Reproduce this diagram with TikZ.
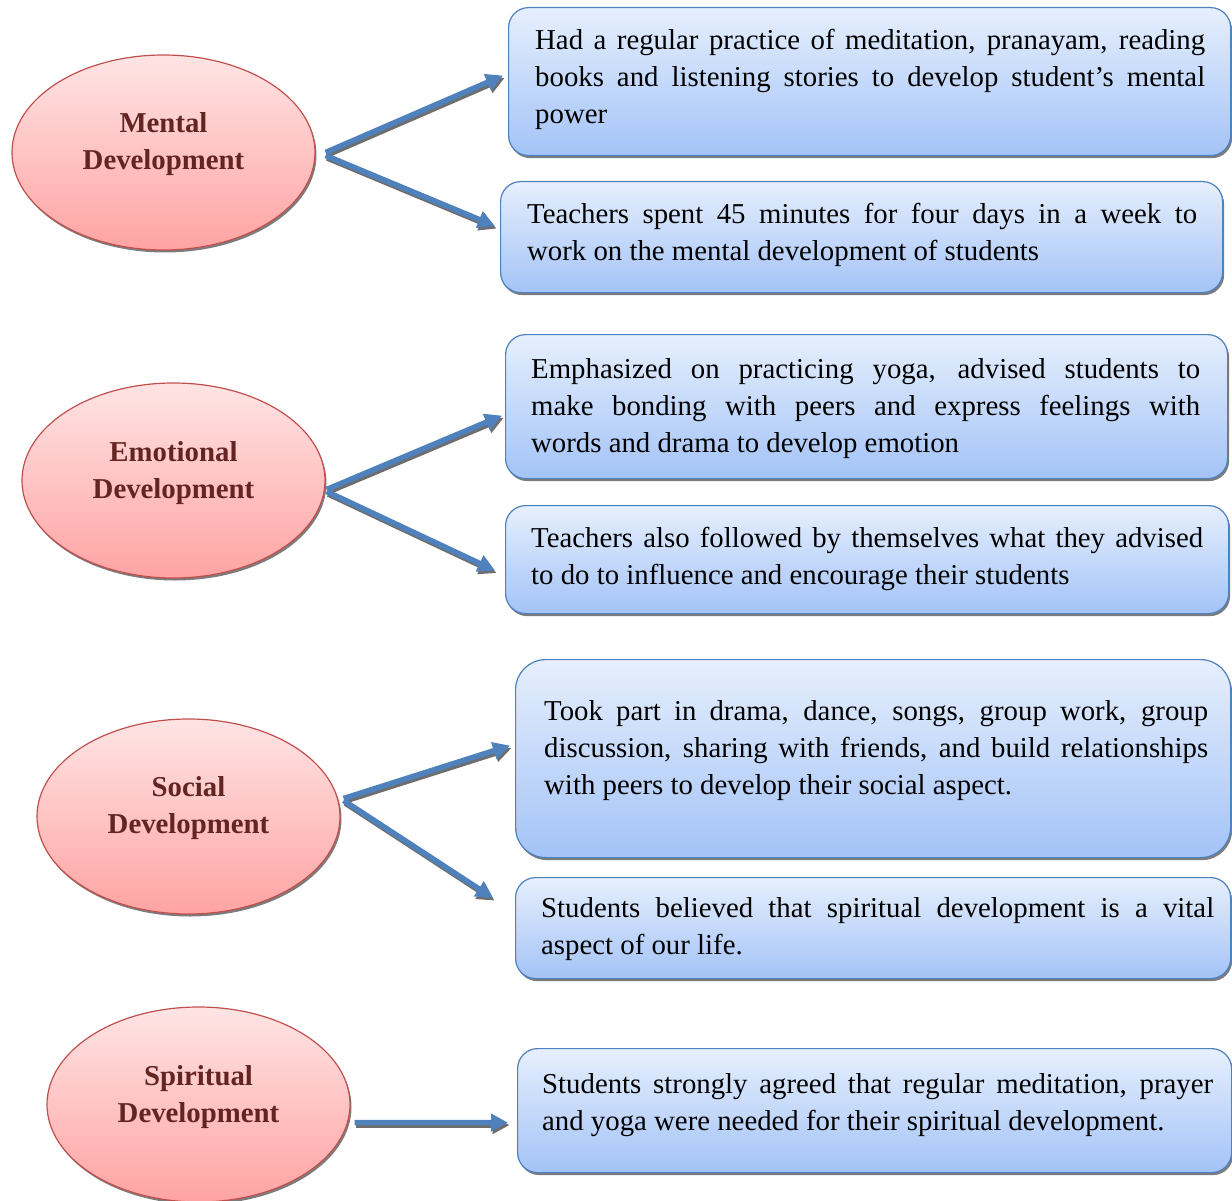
\documentclass[tikz,border=0pt]{standalone}
\usepackage{fontspec}
\setmainfont{Liberation Serif}
\usetikzlibrary{shapes.geometric,arrows.meta,shadows}
\definecolor{bluebd}{HTML}{4F81BD}
\definecolor{redbd}{HTML}{C0504D}
\definecolor{elltxt}{HTML}{632523}
\definecolor{elltop}{HTML}{FFE4E4}
\definecolor{ellbot}{HTML}{FFA3A3}
\definecolor{boxtop}{HTML}{E6EFFD}
\definecolor{boxbot}{HTML}{A3C3F7}
\definecolor{shadowgray}{HTML}{6E6E6E}
\hyphenpenalty=10000
\exhyphenpenalty=10000
\begin{document}
\begin{tikzpicture}[x=1pt,y=-1pt,
  myshadow/.style={drop shadow={shadow xshift=1.5pt,shadow yshift=-2.5pt,fill=shadowgray,opacity=0.9}},
  ell/.style={ellipse,draw=redbd,line width=1.2pt,top color=elltop,bottom color=ellbot,
    minimum width=303pt,minimum height=195pt,inner sep=0pt,myshadow},
  elltext/.style={anchor=base,align=center,inner sep=0pt,text=elltxt,
    font=\fontsize{28.8}{37}\selectfont\bfseries},
  infobox/.style={rectangle,rounded corners=20pt,draw=bluebd,line width=1.2pt,
    top color=boxtop,bottom color=boxbot,anchor=north west,inner sep=0pt,myshadow},
  boxtext/.style={anchor=base west,align=justify,inner sep=0pt,
    font=\fontsize{28.8}{37}\selectfont},
  arr/.style={draw=bluebd,line width=5.5pt,-{Triangle[length=17pt,width=17pt]}},
  arrsh/.style={draw=shadowgray,line width=5.5pt,-{Triangle[length=17pt,width=17pt]},
    transform canvas={shift={(1.5pt,-2.5pt)}}},
]
\useasboundingbox (0,0) rectangle (1232,1201);

% ellipses
\node[ell] (m) at (163.5,152.5) {};
\node[ell] (e) at (173.5,480.5) {};
\node[ell] (s) at (188.5,816.5) {};
\node[ell] (p) at (198.5,1104.5) {};
\node[elltext] (mt) at (163.5,170) {Mental\\Development};
\node[elltext] (et) at (173.5,498) {Emotional\\Development};
\node[elltext] (st) at (188.5,833) {Social\\Development};
\node[elltext] (pt) at (198.5,1122) {Spiritual\\Development};

% boxes
\node[infobox,minimum width=722pt,minimum height=148pt] (b1) at (508,7) {};
\node[infobox,minimum width=722pt,minimum height=111pt] (b2) at (500,181) {};
\node[infobox,minimum width=722pt,minimum height=144pt] (b3) at (505,334) {};
\node[infobox,minimum width=723pt,minimum height=108pt] (b4) at (505,505) {};
\node[infobox,minimum width=715pt,minimum height=198pt,rounded corners=30pt] (b5) at (515,659) {};
\node[infobox,minimum width=715pt,minimum height=101pt] (b6) at (515,877) {};
\node[infobox,minimum width=714pt,minimum height=124pt] (b7) at (517,1048) {};

\node[boxtext,text width=670pt] (t1) at (535,50) {Had a regular practice of meditation, pranayam, reading\linebreak books and listening stories to develop student’s mental\linebreak power};
\node[boxtext,text width=670pt] (t2) at (527,224) {Teachers spent 45 minutes for four days in a week to\linebreak work on the mental development of students};
\node[boxtext,text width=669pt] (t3) at (531,378) {Emphasized on practicing yoga, advised students to\linebreak make bonding with peers and express feelings with\linebreak words and drama to develop emotion};
\node[boxtext,text width=672pt] (t4) at (531,547) {Teachers also followed by themselves what they advised\linebreak to do to influence and encourage their students};
\node[boxtext,text width=664pt] (t5) at (544,720) {Took part in drama, dance, songs, group work, group\linebreak discussion, sharing with friends, and build relationships\linebreak with peers to develop their social aspect.};
\node[boxtext,text width=673pt] (t6) at (541,917) {Students believed that spiritual development is a vital\linebreak aspect of our life.};
\node[boxtext,text width=671pt] (t7) at (542,1093) {Students strongly agreed that regular meditation, prayer\linebreak and yoga were needed for their spiritual development.};

% arrow endpoints
\coordinate (m1) at ([xshift=10pt]m.east);
\coordinate (m2) at ([xshift=10pt,yshift=-3pt]m.east);
\coordinate (b1e) at ([xshift=-5pt,yshift=6pt]b1.west);
\coordinate (b2e) at ([xshift=-5pt,yshift=11pt]b2.west);
\coordinate (e1) at ([xshift=1pt,yshift=-9pt]e.east);
\coordinate (e2) at ([xshift=1pt,yshift=-11pt]e.east);
\coordinate (b3e) at ([xshift=-3pt,yshift=-9pt]b3.west);
\coordinate (b4e) at ([xshift=-10pt,yshift=-11pt]b4.west);
\coordinate (s1) at ([xshift=3pt,yshift=18pt]s.east);
\coordinate (s2) at ([xshift=3pt,yshift=16pt]s.east);
\coordinate (b5e) at ([xshift=-5pt,yshift=13pt]b5.west);
\coordinate (b6e) at ([xshift=-22pt,yshift=30pt]b6.west);
\coordinate (p1) at ([xshift=4pt,yshift=-18pt]p.east);
\coordinate (b7e) at ([xshift=-9pt,yshift=-12pt]b7.west);

\foreach \a/\b in {m1/b1e,m2/b2e,e1/b3e,e2/b4e,s1/b5e,s2/b6e,p1/b7e}{
  \draw[arrsh] (\a) -- (\b);
  \draw[arr] (\a) -- (\b);
}
\end{tikzpicture}
\end{document}
